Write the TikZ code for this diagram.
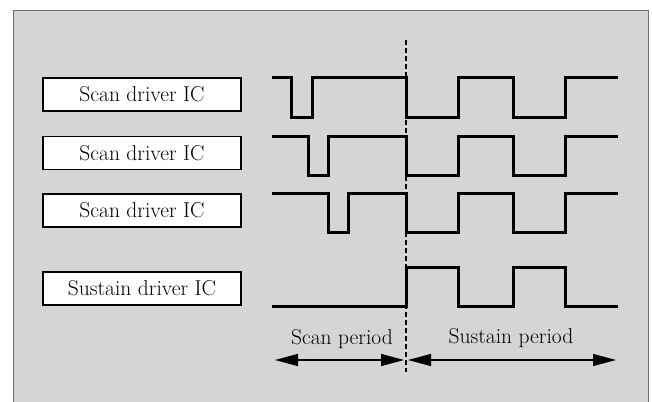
\documentclass[tikz,border=0pt]{standalone}
\usetikzlibrary{arrows.meta}
\definecolor{bg}{HTML}{D4D5D7}
\definecolor{frame}{HTML}{6E6E6E}
\begin{document}
\begin{tikzpicture}[x=1pt,y=-1pt,
  ic/.style={draw=black,fill=white,line width=1.3pt,minimum width=198pt,minimum height=33pt,inner sep=0pt,font=\fontsize{21.5}{24}\selectfont},
  lbl/.style={font=\fontsize{21.5}{24}\selectfont,inner sep=0pt},
  wave/.style={line width=3pt,line join=miter,line cap=butt},
  span/.style={line width=1.3pt,{Triangle[length=23pt,width=12pt]}-{Triangle[length=23pt,width=12pt]}}]
\useasboundingbox (0,0) rectangle (652,401);
\fill[white] (0,0) rectangle (652,401);
\draw[frame,fill=bg,line width=1pt] (13,405) -- (13,11) -- (648,11) -- (648,405);
% boxes
\node[ic] (s1) at (142,94.5) {Scan driver IC};
\node[ic] (s2) at (142,153) {Scan driver IC};
\node[ic] (s3) at (142,210.5) {Scan driver IC};
\node[ic] (su) at (142,288.5) {Sustain driver IC};
% dashed boundary
\coordinate (dtop) at (406,40);
\coordinate (dbot) at (406,372);
\draw[line width=1.2pt,dash pattern=on 5pt off 3pt] (dtop) -- (dbot);
% waveforms
\draw[wave] (272,78) -- (291,78) -- (291,117) -- (312,117) -- (312,78) -- (406,78) -- (406,117) -- (458,117) -- (458,78) -- (513,78) -- (513,117) -- (565,117) -- (565,78) -- (618,78);
\draw[wave] (272,136) -- (308,136) -- (308,175) -- (328,175) -- (328,136) -- (406,136) -- (406,175) -- (458,175) -- (458,136) -- (513,136) -- (513,175) -- (565,175) -- (565,136) -- (618,136);
\draw[wave] (272,193) -- (328,193) -- (328,232) -- (348,232) -- (348,193) -- (406,193) -- (406,232) -- (458,232) -- (458,193) -- (513,193) -- (513,232) -- (565,232) -- (565,193) -- (618,193);
\draw[wave] (272,306) -- (406,306) -- (406,267) -- (458,267) -- (458,306) -- (513,306) -- (513,267) -- (565,267) -- (565,306) -- (618,306);
% periods
\coordinate (a1) at (275,360);
\coordinate (a2) at (404,360);
\coordinate (b1) at (408,360);
\coordinate (b2) at (616,360);
\draw[span] (a1) -- (a2);
\draw[span] (b1) -- (b2);
\node[lbl] (sp) at (342,339) {Scan period};
\node[lbl] (up) at (511,338) {Sustain period};
\end{tikzpicture}
\end{document}
